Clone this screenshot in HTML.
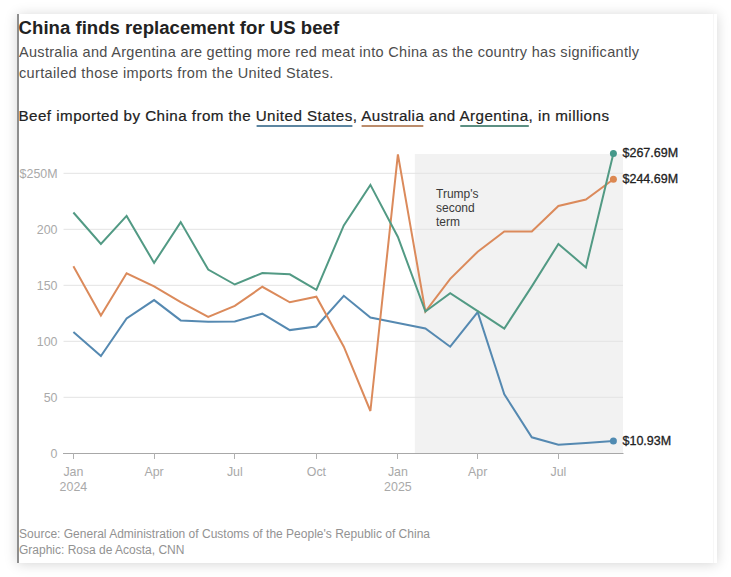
<!DOCTYPE html>
<html><head><meta charset="utf-8"><style>
html,body{margin:0;padding:0;background:#fff;width:731px;height:577px;overflow:hidden}
.card{position:absolute;left:17px;top:14px;width:700px;height:549px;background:#fff;box-shadow:0 1px 12px rgba(0,0,0,0.17)}
svg{position:absolute;left:0;top:0}
text{font-family:"Liberation Sans",sans-serif}
.ax{font-size:12.4px;fill:#a9a9a9}
</style></head><body>
<div class="card"></div>
<svg width="731" height="577" viewBox="0 0 731 577">
<rect x="17" y="14" width="2" height="549" fill="#8e8e8e"/>
<rect x="713" y="14" width="1" height="549" fill="#f7f7f7"/>
<text x="0" y="0" transform="translate(18.6 33.8) scale(1.055 1)" font-size="17.6" font-weight="bold" fill="#222" textLength="303.8" lengthAdjust="spacing">China finds replacement for US beef</text>
<text x="19" y="57" font-size="14.5" fill="#4d4d4d" textLength="620" lengthAdjust="spacing">Australia and Argentina are getting more red meat into China as the country has significantly</text>
<text x="19" y="77.7" font-size="14.5" fill="#4d4d4d" textLength="314.3" lengthAdjust="spacing">curtailed those imports from the United States.</text>
<text x="18.5" y="120.6" font-size="15.2" fill="#222" stroke="#222" stroke-width="0.2" textLength="590.5" lengthAdjust="spacing">Beef imported by China from the <tspan>United States</tspan>, <tspan>Australia</tspan> and <tspan>Argentina</tspan>, in millions</text>
<rect x="256.6" y="125" width="95.8" height="2" fill="#5c85a0"/>
<rect x="361.6" y="125" width="61.7" height="2" fill="#bb8c6c"/>
<rect x="460.3" y="125" width="68.5" height="2" fill="#5c8f82"/>
<rect x="414.8" y="154" width="208.2" height="299" fill="#f2f2f2"/>
<line x1="63.5" x2="623" y1="173.3" y2="173.3" stroke="#e3e3e3" stroke-width="1"/><text x="57.5" y="177.5" text-anchor="end" class="ax">$250M</text><line x1="63.5" x2="623" y1="229.3" y2="229.3" stroke="#e3e3e3" stroke-width="1"/><text x="57.5" y="233.5" text-anchor="end" class="ax">200</text><line x1="63.5" x2="623" y1="285.3" y2="285.3" stroke="#e3e3e3" stroke-width="1"/><text x="57.5" y="289.5" text-anchor="end" class="ax">150</text><line x1="63.5" x2="623" y1="341.3" y2="341.3" stroke="#e3e3e3" stroke-width="1"/><text x="57.5" y="345.5" text-anchor="end" class="ax">100</text><line x1="63.5" x2="623" y1="397.3" y2="397.3" stroke="#e3e3e3" stroke-width="1"/><text x="57.5" y="401.5" text-anchor="end" class="ax">50</text><text x="57.5" y="457.5" text-anchor="end" class="ax">0</text>
<line x1="63" x2="623.5" y1="453.5" y2="453.5" stroke="#a8a8a8" stroke-width="1"/>
<line x1="73.5" x2="73.5" y1="453" y2="459" stroke="#b0b0b0" stroke-width="1"/><text x="73.4" y="475.6" text-anchor="middle" class="ax">Jan</text><text x="73.4" y="490.6" text-anchor="middle" class="ax">2024</text><line x1="154.5" x2="154.5" y1="453" y2="459" stroke="#b0b0b0" stroke-width="1"/><text x="154.1" y="475.6" text-anchor="middle" class="ax">Apr</text><line x1="234.5" x2="234.5" y1="453" y2="459" stroke="#b0b0b0" stroke-width="1"/><text x="234.8" y="475.6" text-anchor="middle" class="ax">Jul</text><line x1="316.5" x2="316.5" y1="453" y2="459" stroke="#b0b0b0" stroke-width="1"/><text x="316.4" y="475.6" text-anchor="middle" class="ax">Oct</text><line x1="397.5" x2="397.5" y1="453" y2="459" stroke="#b0b0b0" stroke-width="1"/><text x="397.9" y="475.6" text-anchor="middle" class="ax">Jan</text><text x="397.9" y="490.6" text-anchor="middle" class="ax">2025</text><line x1="477.5" x2="477.5" y1="453" y2="459" stroke="#b0b0b0" stroke-width="1"/><text x="477.7" y="475.6" text-anchor="middle" class="ax">Apr</text><line x1="558.5" x2="558.5" y1="453" y2="459" stroke="#b0b0b0" stroke-width="1"/><text x="558.4" y="475.6" text-anchor="middle" class="ax">Jul</text>
<text x="436" y="197.8" font-size="12" fill="#3a3a3a">Trump's</text>
<text x="436" y="211.9" font-size="12" fill="#3a3a3a">second</text>
<text x="436" y="226.2" font-size="12" fill="#3a3a3a">term</text>
<path d="M73.4 331.9 L100.9 356.1 L126.6 318.5 L154.1 300.1 L180.7 320.4 L208.2 321.8 L234.8 321.4 L262.3 313.7 L289.8 330.1 L316.4 326.5 L343.8 295.8 L370.4 317.6 L397.9 322.9 L425.4 328.5 L450.2 346.7 L477.7 312.2 L504.3 394.3 L531.8 437.3 L558.4 444.8 L585.9 443.1 L613.4 441.1" fill="none" stroke="#5589b1" stroke-width="2" stroke-linejoin="miter"/>
<path d="M73.4 266.3 L100.9 315.5 L126.6 273.3 L154.1 286.4 L180.7 302.1 L208.2 317.0 L234.8 305.9 L262.3 286.8 L289.8 302.3 L316.4 296.7 L343.8 346.7 L370.4 411.0 L397.9 154.3 L425.4 311.5 L450.2 278.9 L477.7 251.7 L504.3 231.5 L531.8 231.5 L558.4 206.0 L585.9 199.5 L613.4 179.2" fill="none" stroke="#db8a5b" stroke-width="2" stroke-linejoin="miter"/>
<path d="M73.4 212.5 L100.9 243.9 L126.6 215.9 L154.1 262.9 L180.7 222.1 L208.2 269.6 L234.8 284.5 L262.3 273.0 L289.8 274.3 L316.4 289.8 L343.8 225.4 L370.4 184.9 L397.9 237.0 L425.4 311.5 L450.2 293.1 L477.7 311.1 L504.3 328.6 L531.8 286.4 L558.4 243.9 L585.9 267.4 L613.4 153.5" fill="none" stroke="#529a84" stroke-width="2" stroke-linejoin="miter"/>
<circle cx="613.4" cy="441.1" r="3.5" fill="#508bb2"/>
<circle cx="613.4" cy="179.2" r="3.5" fill="#dc8750"/>
<circle cx="613.4" cy="153.5" r="3.5" fill="#45988a"/>
<text x="622.5" y="156.8" font-size="12.5" fill="#222" stroke="#222" stroke-width="0.3">$267.69M</text>
<text x="622.5" y="182.6" font-size="12.5" fill="#222" stroke="#222" stroke-width="0.3">$244.69M</text>
<text x="622.5" y="444.6" font-size="12.5" fill="#222" stroke="#222" stroke-width="0.3">$10.93M</text>
<text x="19" y="538" font-size="12" fill="#929292" textLength="411" lengthAdjust="spacing">Source: General Administration of Customs of the People's Republic of China</text>
<text x="19" y="553.7" font-size="12" fill="#929292">Graphic: Rosa de Acosta, CNN</text>
</svg>
</body></html>
